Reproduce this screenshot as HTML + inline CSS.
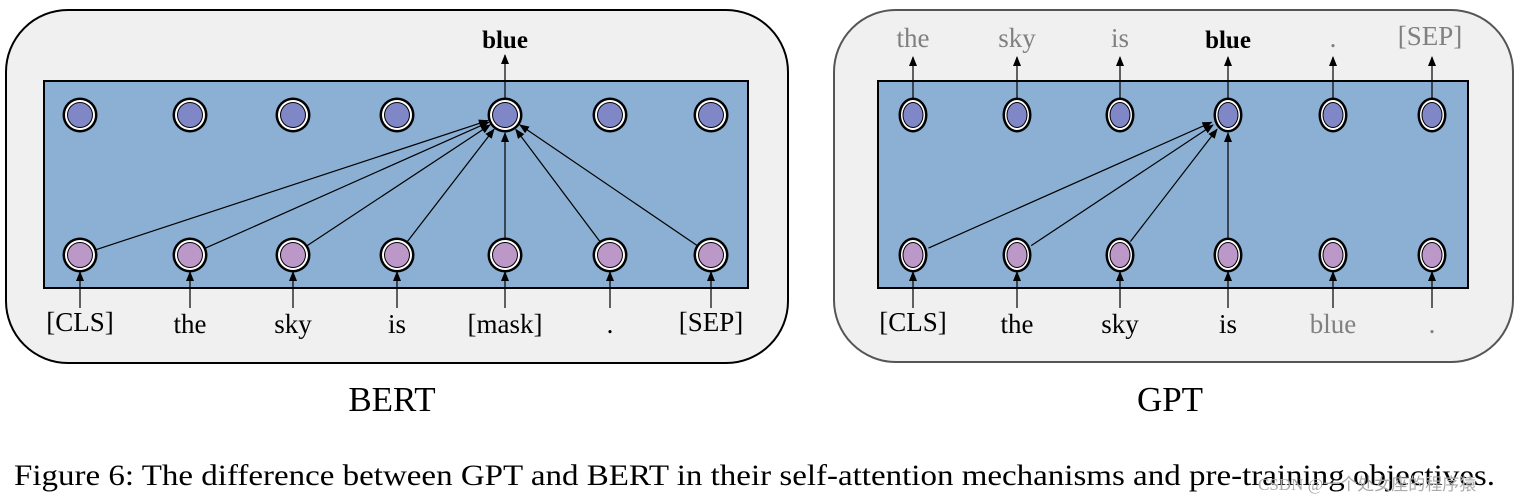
<!DOCTYPE html>
<html><head><meta charset="utf-8"><style>
html,body{margin:0;padding:0;background:#fff;}
svg{display:block;}
text{font-family:"Liberation Serif",serif;}
</style></head><body>
<svg width="1523" height="501" viewBox="0 0 1523 501" xmlns="http://www.w3.org/2000/svg">
<defs>
<marker id="ah" markerWidth="10" markerHeight="8" refX="9" refY="4" orient="auto" markerUnits="userSpaceOnUse">
<path d="M0,0 L10,4 L0,8 z" fill="#000"/></marker>
<g id="nt"><circle r="17.5" fill="#000"/><circle r="15" fill="#fff"/><circle r="13" fill="#000"/><circle r="12" fill="#7f87c6"/></g>
<g id="nb"><circle r="17.5" fill="#000"/><circle r="15" fill="#fff"/><circle r="13" fill="#000"/><circle r="12" fill="#bb98c8"/></g>
<g id="et"><ellipse rx="14.5" ry="17.5" fill="#000"/><ellipse rx="12" ry="15" fill="#fff"/><ellipse rx="10.5" ry="13" fill="#000"/><ellipse rx="9.5" ry="12" fill="#7f87c6"/></g>
<g id="eb"><ellipse rx="14.5" ry="17.5" fill="#000"/><ellipse rx="12" ry="15" fill="#fff"/><ellipse rx="10.5" ry="13" fill="#000"/><ellipse rx="9.5" ry="12" fill="#bb98c8"/></g>
</defs>

<!-- BERT -->
<rect x="6" y="10" width="782" height="353" rx="62" fill="#f0f0f0" stroke="#000" stroke-width="2"/>
<rect x="44" y="81" width="704" height="207" fill="#8bb0d3" stroke="#000" stroke-width="2"/>
<g stroke="#000" stroke-width="1.2" marker-end="url(#ah)">
<line x1="96" y1="249.7" x2="487.9" y2="120.6"/>
<line x1="205.5" y1="248.1" x2="488.5" y2="122.3"/>
<line x1="307.2" y1="245.6" x2="490" y2="124.9"/>
<line x1="407.4" y1="241.5" x2="494" y2="129.3"/>
<line x1="505" y1="238" x2="505" y2="133"/>
<line x1="599.8" y1="241.4" x2="515.8" y2="129.4"/>
<line x1="696.9" y1="245.4" x2="519.9" y2="124.9"/>
<line x1="505" y1="98" x2="505" y2="55"/>
<line x1="80" y1="308" x2="80" y2="272"/>
<line x1="190" y1="308" x2="190" y2="272"/>
<line x1="293" y1="308" x2="293" y2="272"/>
<line x1="397" y1="308" x2="397" y2="272"/>
<line x1="505" y1="308" x2="505" y2="272"/>
<line x1="610" y1="308" x2="610" y2="272"/>
<line x1="711" y1="308" x2="711" y2="272"/>
</g>
<use href="#nt" x="80" y="115"/><use href="#nt" x="190" y="115"/><use href="#nt" x="293" y="115"/><use href="#nt" x="397" y="115"/><use href="#nt" x="505" y="115"/><use href="#nt" x="610" y="115"/><use href="#nt" x="711" y="115"/>
<use href="#nb" x="80" y="255"/><use href="#nb" x="190" y="255"/><use href="#nb" x="293" y="255"/><use href="#nb" x="397" y="255"/><use href="#nb" x="505" y="255"/><use href="#nb" x="610" y="255"/><use href="#nb" x="711" y="255"/>
<g font-size="27" text-anchor="middle" fill="#000">
<text x="505" y="48" font-weight="bold" font-size="25">blue</text>
<text x="80" y="331">[CLS]</text>
<text x="190" y="333">the</text>
<text x="293" y="333">sky</text>
<text x="397" y="333">is</text>
<text x="505" y="333">[mask]</text>
<text x="610" y="333">.</text>
<text x="711" y="331">[SEP]</text>
<text x="392" y="411" font-size="35">BERT</text>
</g>

<!-- GPT -->
<rect x="834" y="10" width="679" height="352" rx="62" fill="#f0f0f0" stroke="#555" stroke-width="2"/>
<rect x="878" y="81" width="590" height="207" fill="#8bb0d3" stroke="#000" stroke-width="2"/>
<g stroke="#000" stroke-width="1.2" marker-end="url(#ah)">
<line x1="928.5" y1="248.1" x2="1211.5" y2="122.3"/>
<line x1="1031.2" y1="245.6" x2="1213" y2="125"/>
<line x1="1130.4" y1="241.5" x2="1217" y2="129.3"/>
<line x1="1228" y1="238" x2="1228" y2="133"/>
<line x1="913" y1="105" x2="913" y2="57"/>
<line x1="1017" y1="105" x2="1017" y2="57"/>
<line x1="1120" y1="105" x2="1120" y2="57"/>
<line x1="1228" y1="105" x2="1228" y2="57"/>
<line x1="1333" y1="105" x2="1333" y2="57"/>
<line x1="1432" y1="105" x2="1432" y2="57"/>
<line x1="913" y1="308" x2="913" y2="272"/>
<line x1="1017" y1="308" x2="1017" y2="272"/>
<line x1="1120" y1="308" x2="1120" y2="272"/>
<line x1="1228" y1="308" x2="1228" y2="272"/>
<line x1="1333" y1="308" x2="1333" y2="272"/>
<line x1="1432" y1="308" x2="1432" y2="272"/>
</g>
<use href="#et" x="913" y="115"/><use href="#et" x="1017" y="115"/><use href="#et" x="1120" y="115"/><use href="#et" x="1228" y="115"/><use href="#et" x="1333" y="115"/><use href="#et" x="1432" y="115"/>
<use href="#eb" x="913" y="255"/><use href="#eb" x="1017" y="255"/><use href="#eb" x="1120" y="255"/><use href="#eb" x="1228" y="255"/><use href="#eb" x="1333" y="255"/><use href="#eb" x="1432" y="255"/>
<g font-size="27" text-anchor="middle">
<text x="913" y="47" fill="#808080">the</text>
<text x="1017" y="47" fill="#808080">sky</text>
<text x="1120" y="47" fill="#808080">is</text>
<text x="1228" y="48" font-weight="bold" font-size="25" fill="#000">blue</text>
<text x="1333" y="47" fill="#808080">.</text>
<text x="1430" y="45" fill="#808080">[SEP]</text>
<text x="913" y="331" fill="#000">[CLS]</text>
<text x="1017" y="333" fill="#000">the</text>
<text x="1120" y="333" fill="#000">sky</text>
<text x="1228" y="333" fill="#000">is</text>
<text x="1333" y="333" fill="#808080">blue</text>
<text x="1432" y="333" fill="#808080">.</text>
<text x="1170" y="411" font-size="35" fill="#000">GPT</text>
</g>

<text x="14" y="485" font-size="30" fill="#000" textLength="1481" lengthAdjust="spacingAndGlyphs">Figure 6: The difference between GPT and BERT in their self-attention mechanisms and pre-training objectives.</text>
<text x="1258" y="490" font-size="17" fill="#aaa" font-family="Liberation Sans, Noto Sans CJK SC, sans-serif">CSDN @一个处女座的程序猿</text>
</svg>
</body></html>
